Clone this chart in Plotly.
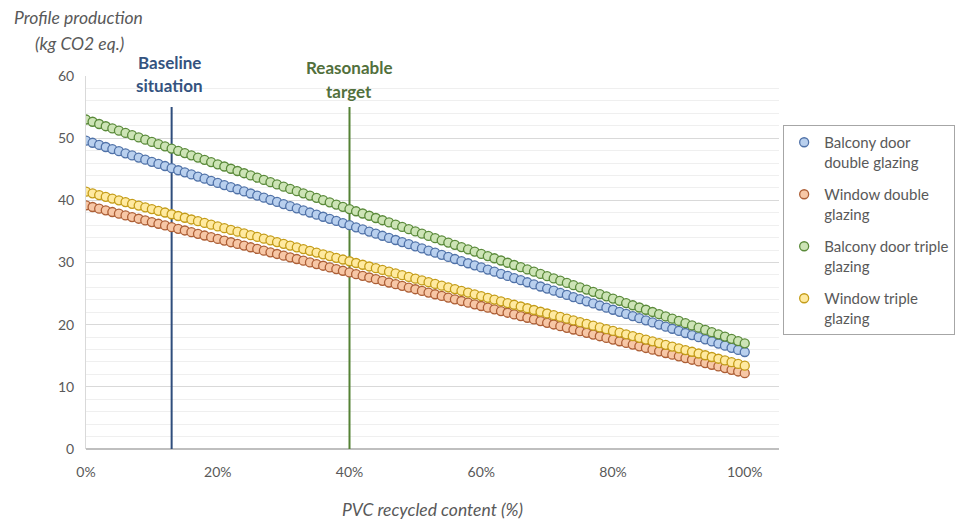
import plotly.graph_objects as go

# ---------------- data ----------------
recycled_pct = list(range(0, 101))  # PVC recycled content, 1 % steps

balcony_double = [
    49.60, 49.26, 48.92, 48.58, 48.24, 47.90, 47.56, 47.22, 46.88, 46.54,
    46.20, 45.86, 45.52, 45.18, 44.84, 44.50, 44.16, 43.82, 43.48, 43.14,
    42.80, 42.46, 42.12, 41.78, 41.44, 41.10, 40.76, 40.42, 40.08, 39.74,
    39.40, 39.06, 38.72, 38.38, 38.04, 37.70, 37.36, 37.02, 36.68, 36.34,
    36.00, 35.66, 35.32, 34.98, 34.64, 34.30, 33.96, 33.62, 33.28, 32.94,
    32.60, 32.26, 31.92, 31.58, 31.24, 30.90, 30.56, 30.22, 29.88, 29.54,
    29.20, 28.86, 28.52, 28.18, 27.84, 27.50, 27.16, 26.82, 26.48, 26.14,
    25.80, 25.46, 25.12, 24.78, 24.44, 24.10, 23.76, 23.42, 23.08, 22.74,
    22.40, 22.06, 21.72, 21.38, 21.04, 20.70, 20.36, 20.02, 19.68, 19.34,
    19.00, 18.66, 18.32, 17.98, 17.64, 17.30, 16.96, 16.62, 16.28, 15.94,
    15.60,
]

window_double = [
    39.20, 38.93, 38.66, 38.39, 38.12, 37.85, 37.58, 37.31, 37.04, 36.77,
    36.50, 36.23, 35.96, 35.69, 35.42, 35.15, 34.88, 34.61, 34.34, 34.07,
    33.80, 33.53, 33.26, 32.99, 32.72, 32.45, 32.18, 31.91, 31.64, 31.37,
    31.10, 30.83, 30.56, 30.29, 30.02, 29.75, 29.48, 29.21, 28.94, 28.67,
    28.40, 28.13, 27.86, 27.59, 27.32, 27.05, 26.78, 26.51, 26.24, 25.97,
    25.70, 25.43, 25.16, 24.89, 24.62, 24.35, 24.08, 23.81, 23.54, 23.27,
    23.00, 22.73, 22.46, 22.19, 21.92, 21.65, 21.38, 21.11, 20.84, 20.57,
    20.30, 20.03, 19.76, 19.49, 19.22, 18.95, 18.68, 18.41, 18.14, 17.87,
    17.60, 17.33, 17.06, 16.79, 16.52, 16.25, 15.98, 15.71, 15.44, 15.17,
    14.90, 14.63, 14.36, 14.09, 13.82, 13.55, 13.28, 13.01, 12.74, 12.47,
    12.20,
]

balcony_triple = [
    53.00, 52.64, 52.28, 51.92, 51.56, 51.20, 50.84, 50.48, 50.12, 49.76,
    49.40, 49.04, 48.68, 48.32, 47.96, 47.60, 47.24, 46.88, 46.52, 46.16,
    45.80, 45.44, 45.08, 44.72, 44.36, 44.00, 43.64, 43.28, 42.92, 42.56,
    42.20, 41.84, 41.48, 41.12, 40.76, 40.40, 40.04, 39.68, 39.32, 38.96,
    38.60, 38.24, 37.88, 37.52, 37.16, 36.80, 36.44, 36.08, 35.72, 35.36,
    35.00, 34.64, 34.28, 33.92, 33.56, 33.20, 32.84, 32.48, 32.12, 31.76,
    31.40, 31.04, 30.68, 30.32, 29.96, 29.60, 29.24, 28.88, 28.52, 28.16,
    27.80, 27.44, 27.08, 26.72, 26.36, 26.00, 25.64, 25.28, 24.92, 24.56,
    24.20, 23.84, 23.48, 23.12, 22.76, 22.40, 22.04, 21.68, 21.32, 20.96,
    20.60, 20.24, 19.88, 19.52, 19.16, 18.80, 18.44, 18.08, 17.72, 17.36,
    17.00,
]

window_triple = [
    41.40, 41.12, 40.84, 40.56, 40.28, 40.00, 39.72, 39.44, 39.16, 38.88,
    38.60, 38.32, 38.04, 37.76, 37.48, 37.20, 36.92, 36.64, 36.36, 36.08,
    35.80, 35.52, 35.24, 34.96, 34.68, 34.40, 34.12, 33.84, 33.56, 33.28,
    33.00, 32.72, 32.44, 32.16, 31.88, 31.60, 31.32, 31.04, 30.76, 30.48,
    30.20, 29.92, 29.64, 29.36, 29.08, 28.80, 28.52, 28.24, 27.96, 27.68,
    27.40, 27.12, 26.84, 26.56, 26.28, 26.00, 25.72, 25.44, 25.16, 24.88,
    24.60, 24.32, 24.04, 23.76, 23.48, 23.20, 22.92, 22.64, 22.36, 22.08,
    21.80, 21.52, 21.24, 20.96, 20.68, 20.40, 20.12, 19.84, 19.56, 19.28,
    19.00, 18.72, 18.44, 18.16, 17.88, 17.60, 17.32, 17.04, 16.76, 16.48,
    16.20, 15.92, 15.64, 15.36, 15.08, 14.80, 14.52, 14.24, 13.96, 13.68,
    13.40,
]

series_names = [
    "Balcony door<br>double glazing",
    "Window double<br>glazing",
    "Balcony door triple<br>glazing",
    "Window triple<br>glazing",
]
series_values = [balcony_double, window_double, balcony_triple, window_triple]
fill_colors = ["#b9d0ee", "#f7c7a6", "#cde4b6", "#ffeaa0"]
edge_colors = ["#5072a8", "#ad5f36", "#5a8a3a", "#c49c18"]

baseline_x = 13
target_x = 40
marker_line_top = 55
x_tick_vals = [0, 20, 40, 60, 80, 100]
x_tick_text = ["0%", "20%", "40%", "60%", "80%", "100%"]
y_tick_vals = [0, 10, 20, 30, 40, 50, 60]

FONT = "Lato"
GRAY = "#595959"

fig = go.Figure()

# vertical reference lines
fig.add_trace(go.Scatter(
    x=[baseline_x, baseline_x], y=[0, marker_line_top], mode="lines",
    line=dict(color="#2f4d7c", width=2), showlegend=False, hoverinfo="skip"))
fig.add_trace(go.Scatter(
    x=[target_x, target_x], y=[0, marker_line_top], mode="lines",
    line=dict(color="#548235", width=2), showlegend=False, hoverinfo="skip"))

for i, (name, vals) in enumerate(zip(series_names, series_values)):
    fig.add_trace(go.Scatter(
        x=recycled_pct, y=vals, mode="markers", name=name,
        legendgroup=f"g{i}",
        marker=dict(size=9, color=fill_colors[i],
                    line=dict(color=edge_colors[i], width=1.3)),
    ))

TITLE_FONT = dict(family=FONT, size=17.5, color=GRAY, style="italic")
annotations = [
    dict(text="Profile production", xref="paper", yref="paper",
         x=-0.0115, y=1.1555, xanchor="center", yanchor="middle", showarrow=False,
         font=TITLE_FONT),
    dict(text="(kg CO2 eq.)", xref="paper", yref="paper",
         x=-0.010, y=1.0858, xanchor="center", yanchor="middle", showarrow=False,
         font=TITLE_FONT),
    dict(text="PVC recycled content (%)", xref="paper", yref="paper",
         x=0.5, y=-0.1635, xanchor="center", yanchor="middle", showarrow=False,
         font=TITLE_FONT),
    dict(text="<b>Baseline</b>", xref="x", yref="paper", x=baseline_x - 0.4, y=1.035,
         xanchor="center", yanchor="middle", showarrow=False,
         font=dict(family=FONT, size=17, color="#34537f")),
    dict(text="<b>situation</b>", xref="x", yref="paper", x=baseline_x - 0.4, y=0.9733,
         xanchor="center", yanchor="middle", showarrow=False,
         font=dict(family=FONT, size=17, color="#34537f")),
    dict(text="<b>Reasonable</b>", xref="x", yref="paper", x=target_x - 0.1, y=1.0217,
         xanchor="center", yanchor="middle", showarrow=False,
         font=dict(family=FONT, size=17, color="#52703c")),
    dict(text="<b>target</b>", xref="x", yref="paper", x=target_x - 0.1, y=0.9575,
         xanchor="center", yanchor="middle", showarrow=False,
         font=dict(family=FONT, size=17, color="#52703c")),
]

fig.update_layout(
    width=967, height=520,
    margin=dict(l=86, r=188, t=76, b=71),
    paper_bgcolor="white", plot_bgcolor="white",
    font=dict(family=FONT, color=GRAY, size=14),
    showlegend=True,
    legend=dict(
        x=1.006, y=0.8686, xanchor="left", yanchor="top",
        bordercolor="#a6a6a6", borderwidth=1, bgcolor="white",
        font=dict(family=FONT, size=15, color=GRAY),
        valign="top", tracegroupgap=10, itemwidth=30,
    ),
    annotations=annotations,
    xaxis=dict(
        range=[0, 105.2], tickvals=x_tick_vals, ticktext=x_tick_text,
        showgrid=False, zeroline=False,
        showline=False, ticks="", ticklabelstandoff=13,
        tickfont=dict(family=FONT, size=14, color=GRAY),
    ),
    yaxis=dict(
        range=[0, 60], tickvals=y_tick_vals,
        showgrid=True, gridcolor="#d9d9d9", gridwidth=1,
        minor=dict(dtick=2, tick0=0, showgrid=True, gridcolor="#efefef", gridwidth=1),
        zeroline=True, zerolinecolor="#bfbfbf", zerolinewidth=1.5,
        showline=True, linecolor="#d9d9d9", linewidth=1,
        ticks="", ticklabelstandoff=8,
        tickfont=dict(family=FONT, size=14, color=GRAY),
    ),
)

fig.write_html("out.html", config={"displayModeBar": False},
               post_script="document.body.style.margin='0px';")
